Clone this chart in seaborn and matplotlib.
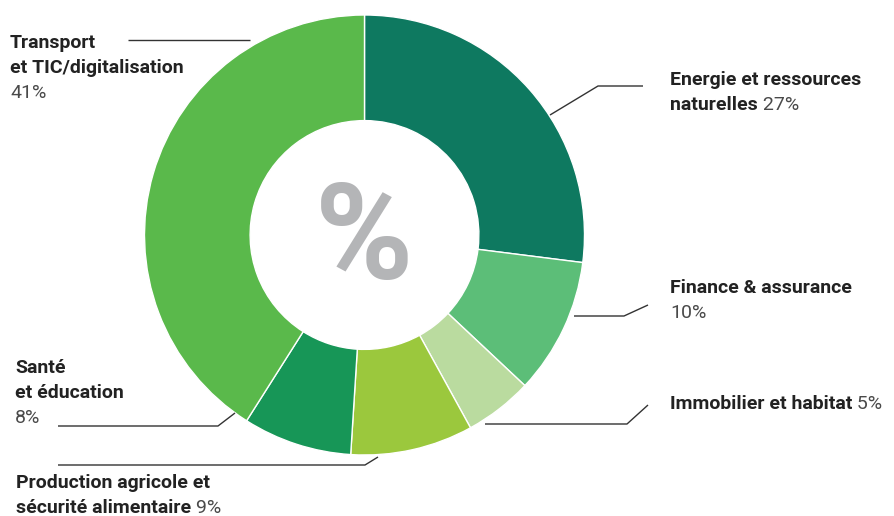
import matplotlib
matplotlib.use("Agg")
import matplotlib.pyplot as plt
from matplotlib import font_manager
import seaborn as sns

# ---- data ----
categories = ["Energie et ressources naturelles", "Finance & assurance",
              "Immobilier et habitat", "Production agricole et sécurité alimentaire",
              "Santé et éducation", "Transport et TIC/digitalisation"]
shares = [27, 10, 5, 9, 8, 41]
colors = ["#0e7960", "#5cbe78", "#badb9f", "#9bc83d", "#179657", "#5ab94b"]

# label lines: list of lines, each line a list of (text, bold) parts; "{p}" -> share
label_lines = [
    [[("Energie et ressources", True)], [("naturelles", True), (" {p}%", False)]],
    [[("Finance & assurance", True)], [("{p}%", False)]],
    [[("Immobilier et habitat", True), (" {p}%", False)]],
    [[("Production agricole et", True)], [("sécurité alimentaire", True), (" {p}%", False)]],
    [[("Santé", True)], [("et éducation", True)], [("{p}%", False)]],
    [[("Transport", True)], [("et TIC/digitalisation", True)], [("{p}%", False)]],
]

sns.set_theme(style="white")
names = {f.name for f in font_manager.fontManager.ttflist}
label_font = "Roboto" if "Roboto" in names else "Liberation Sans"
pct_font = "Roboto" if "Roboto" in names else "Liberation Sans"
plt.rcParams["font.family"] = [label_font, "DejaVu Sans"]

W, H = 894, 516
fig = plt.figure(figsize=(W / 100, H / 100), dpi=100)
ax = fig.add_axes([0, 0, 1, 1])

cx, cy, R = 364.5, H - 235, 220
ax.pie(shares, colors=colors, startangle=90, counterclock=False, center=(cx, cy),
       radius=R, wedgeprops=dict(width=R * 0.48, edgecolor="white", linewidth=1.0),
       frame=True)
ax.set_xlim(0, W)
ax.set_ylim(0, H)
ax.set_aspect("equal")
ax.axis("off")

ax.text(cx, cy - 7, "%", ha="center", va="center", fontsize=96, fontweight="bold",
        color="#b4b5b7", family=[pct_font, "DejaVu Sans"])

# label layout (pixel positions: text x, first baseline y, leader polyline)
layout = [
    (670, 85, [(550, 115), (598, 86), (643, 86)]),
    (670, 293, [(574, 316), (624, 316), (648, 305)]),
    (670, 409, [(485, 424), (627, 424), (648, 405)]),
    (16, 488, [(58, 465), (365, 465), (378, 457)]),
    (15, 373, [(58, 426), (218, 426), (235, 413)]),
    (10, 48, [(128, 40), (250, 40)]),
]
line_h = 25
fs = 14
fig.canvas.draw()
renderer = fig.canvas.get_renderer()
for (tx, ty, poly), lines, p in zip(layout, label_lines, shares):
    for i, parts in enumerate(lines):
        x = tx
        y = H - (ty + i * line_h)
        for txt, bold in parts:
            t = ax.text(x, y, txt.format(p=p), ha="left", va="baseline", fontsize=fs,
                        fontweight="bold" if bold else "normal",
                        color="#222222" if bold else "#4a4a4a")
            bb = t.get_window_extent(renderer)
            x = bb.x1
    xs = [q[0] for q in poly]
    ys = [H - q[1] for q in poly]
    ax.plot(xs, ys, color="#333333", lw=1.0, solid_capstyle="butt")

fig.savefig("out.png", dpi=100)
